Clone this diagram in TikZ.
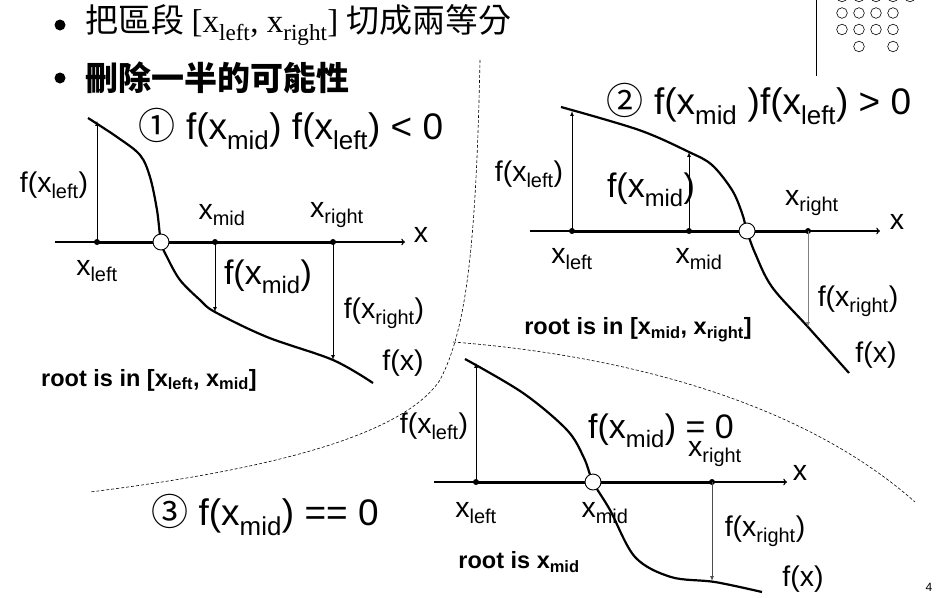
\documentclass[tikz,border=0pt]{standalone}
\usepackage{fontspec}
\setmainfont{Liberation Sans}
\newfontfamily\cjk{Noto Sans CJK TC}
\newfontfamily\timesf{Liberation Serif}
\usetikzlibrary{positioning}

\newcommand{\sub}[1]{\textsubscript{#1}}
\newcommand{\fsz}[1]{\fontsize{#1}{#1}\selectfont}

\tikzset{
  axisline/.style={line width=1.4pt, ->},
  bisect/.style={line width=3pt},
  fcurve/.style={line width=2.2pt},
  valarrow/.style={line width=0.7pt, -latex},
  dotpt/.style={circle, fill, inner sep=0pt, minimum size=6pt},
  rootpt/.style={circle, draw, fill=white, line width=0.9pt, inner sep=0pt, minimum size=16pt},
  lbl/.style={font=\fsz{28.5}, inner sep=0pt},
  biglbl/.style={font=\fsz{34}, inner sep=0pt},
  casettl/.style={font=\fsz{37}, inner sep=0pt},
  rootlbl/.style={font=\fsz{23.5}\bfseries, inner sep=0pt},
  divider/.style={dashed, dash pattern=on 3pt off 2pt, line width=0.6pt},
}

\begin{document}
\begin{tikzpicture}[x=1pt, y=-1pt]
  \useasboundingbox (0,0) rectangle (944,597);

  % slide decoration
  \draw[line width=0.8pt] (816,0) -- (816,76);
  \foreach \x in {842,859,876,893,910} \draw[line width=0.6pt] (\x,-3.5) circle (5.3pt);
  \foreach \y in {13,29.5} \foreach \x in {842,859,876,893} \draw[line width=0.6pt] (\x,\y) circle (5.3pt);
  \foreach \x in {859,893} \draw[line width=0.6pt] (\x,46.5) circle (5.3pt);

  % bullets
  \fill (60,25) circle (5.5pt);
  \node[anchor=west, inner sep=0pt, font=\fsz{33}] (line1) at (85,25)
    {\cjk 把區段 \timesf [x\sub{left}, x\sub{right}] \cjk 切成兩等分};
  \fill (60,78) circle (5.5pt);
  \node[anchor=west, inner sep=0pt, font=\fsz{33}] (line2) at (85,78)
    {\cjk\bfseries 刪除一半的可能性};

  % dividers
  \draw[divider] (480,60) .. controls (476,250) and (466,330) .. (440,380)
    .. controls (400,440) and (250,472) .. (90,492);
  \draw[divider] (453,342) .. controls (620,355) and (800,400) .. (915,502);

  % case 1
  \coordinate (ax1s) at (55,242);
  \coordinate (ax1e) at (405,242);
  \node[dotpt] (l1) at (97,242) {};
  \node[dotpt] (m1) at (215,242) {};
  \node[dotpt] (r1) at (333,242) {};
  \coordinate (fl1) at (97,121);
  \coordinate (fm1) at (215,312);
  \coordinate (fr1) at (333,360);
  \draw[axisline] (ax1s) -- (ax1e);
  \draw[bisect] (l1.center) -- (r1.center);
  \draw[fcurve] plot[smooth, tension=0.55] coordinates {(88,118) (117,137) (140,155) (150,177) (157,210)
    (161,242) (167,257) (180,280) (200,300) (215,312) (267,337) (333,360) (373,383)};
  \draw[valarrow] (l1.center) -- (fl1);
  \draw[valarrow] (m1.center) -- (fm1);
  \draw[valarrow] (r1.center) -- (fr1);
  \node[rootpt] (z1) at (161,242) {};
  \node[casettl] (ttl1) at (291,129) {{\cjk ①} f(x\sub{mid}) f(x\sub{left}) < 0};
  \node[lbl] (tfl1) at (54,185) {f(x\sub{left})};
  \node[lbl] (txm1) at (222,215) {x\sub{mid}};
  \node[lbl] (txr1) at (337,215) {x\sub{right}};
  \node[lbl] (tx1) at (421,235) {x};
  \node[lbl] (txl1) at (97,271) {x\sub{left}};
  \node[biglbl] (tfm1) at (268,277) {f(x\sub{mid})};
  \node[lbl] (tfr1) at (384,313) {f(x\sub{right})};
  \node[lbl] (tf1) at (403,363) {f(x)};
  \node[rootlbl] (rt1) at (149,380) {root is in [x\sub{left}, x\sub{mid}]};

  % case 2
  \coordinate (ax2s) at (530,231);
  \coordinate (ax2e) at (880,231);
  \node[dotpt] (l2) at (572,231) {};
  \node[dotpt] (m2) at (689,231) {};
  \node[dotpt] (r2) at (808,231) {};
  \coordinate (fl2) at (572,111);
  \coordinate (fm2) at (689,152);
  \coordinate (fr2) at (808,327);
  \draw[axisline] (ax2s) -- (ax2e);
  \draw[bisect] (l2.center) -- (r2.center);
  \draw[fcurve] plot[smooth, tension=0.55] coordinates {(561,107) (639,130) (689,152) (712,165)
    (732,190) (742,213) (747,231) (755,253) (772,287) (808,327) (849,373)};
  \draw[valarrow] (l2.center) -- (fl2);
  \draw[valarrow] (m2.center) -- (fm2);
  \draw[valarrow, gray] (r2.center) -- (fr2);
  \node[rootpt] (z2) at (747,231) {};
  \node[casettl] (ttl2) at (759,104) {{\cjk ②} f(x\sub{mid} )f(x\sub{left}) > 0};
  \node[lbl] (tfl2) at (529,174) {f(x\sub{left})};
  \node[biglbl] (tfm2) at (651,190) {f(x\sub{mid})};
  \node[lbl] (txr2) at (812,203) {x\sub{right}};
  \node[lbl] (tx2) at (897,222) {x};
  \node[lbl] (txl2) at (572,259) {x\sub{left}};
  \node[lbl] (txm2) at (699,259) {x\sub{mid}};
  \node[lbl] (tfr2) at (858,301) {f(x\sub{right})};
  \node[rootlbl] (rt2) at (638,330) {root is in [x\sub{mid}, x\sub{right}]};
  \node[lbl] (tf2) at (876,355) {f(x)};

  % case 3
  \coordinate (ax3s) at (434,482);
  \coordinate (ax3e) at (787,482);
  \node[dotpt] (l3) at (476,482) {};
  \node[dotpt] (r3) at (712,482) {};
  \coordinate (fl3) at (476,363);
  \coordinate (fr3) at (712,581);
  \draw[axisline] (ax3s) -- (ax3e);
  \draw[bisect] (l3.center) -- (r3.center);
  \draw[fcurve] plot[smooth, tension=0.55] coordinates {(465,359) (523,393) (567,430) (584,458)
    (593,482) (610,510) (635,557) (671,577) (715,582) (762,592)};
  \draw[valarrow] (l3.center) -- (fl3);
  \draw[valarrow, black!70] (r3.center) -- (fr3);
  \node[rootpt] (z3) at (593,482) {};
  \node[casettl] (ttl3) at (265,515) {{\cjk ③} f(x\sub{mid}) == 0};
  \node[lbl] (tfl3) at (434,426) {f(x\sub{left})};
  \node[biglbl] (tfm3) at (661,431) {f(x\sub{mid}) = 0};
  \node[lbl] (txr3) at (715,454) {x\sub{right}};
  \node[lbl] (tx3) at (800,473) {x};
  \node[lbl] (txl3) at (476,513) {x\sub{left}};
  \node[lbl] (txm3) at (605,513) {x\sub{mid}};
  \node[lbl] (tfr3) at (765,531) {f(x\sub{right})};
  \node[rootlbl] (rt3) at (519,562) {root is x\sub{mid}};
  \node[lbl] (tf3) at (803,579) {f(x)};

  \node[font=\fsz{12}, inner sep=0pt] (pgno) at (929,587) {4};
\end{tikzpicture}
\end{document}
